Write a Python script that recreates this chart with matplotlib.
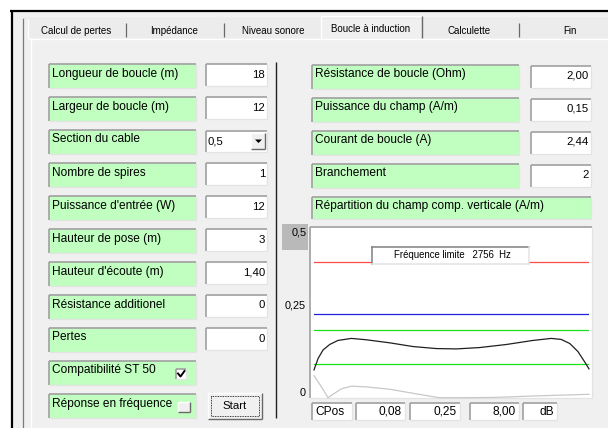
import matplotlib.pyplot as plt
from matplotlib.patches import Rectangle, Polygon

# ---- data ----
tabs = ['Calcul de pertes', 'Impédance', 'Niveau sonore', 'Boucle à induction', 'Calculette', 'Fin']
left_labels = ['Longueur de boucle (m)', 'Largeur de boucle (m)', 'Section du cable',
               'Nombre de spires', "Puissance d'entrée (W)", 'Hauteur de pose (m)',
               "Hauteur d'écoute (m)", 'Résistance additionel', 'Pertes',
               'Compatibilité ST 50', 'Réponse en fréquence']
left_values = ['18', '12', '0,5', '1', '12', '3', '1,40', '0', '0']
right_labels = ['Résistance de boucle (Ohm)', 'Puissance du champ (A/m)',
                'Courant de boucle (A)', 'Branchement']
right_values = ['2,00', '0,15', '2,44', '2']
chart_title = 'Répartition du champ comp. verticale (A/m)'
freq_text = 'Fréquence limite   2756  Hz'
bottom_values = ['CPos', '0,08', '0,25', '8,00', 'dB']

# field along the loop (position in % of the width)
pos_black = [0, 1.5, 3.3, 5.7, 8.7, 13.6, 19.0, 27.5, 36.0, 44.5, 51.8, 60.2, 69.9,
             79.6, 86.3, 89.9, 93.0, 96.0, 98.4, 100]
field_black = [0.082, 0.116, 0.141, 0.157, 0.169, 0.175, 0.171, 0.162, 0.151, 0.145,
               0.144, 0.148, 0.157, 0.169, 0.175, 0.172, 0.160, 0.136, 0.106, 0.085]
pos_gray = [0, 2.7, 5.1, 6.9, 9.9, 13.6, 19.0, 27.5, 36.0, 43.3, 45.7, 55.4, 66.3,
            79.6, 91.8, 100]
field_gray = [0.065, 0.032, 0.0, 0.010, 0.026, 0.034, 0.032, 0.025, 0.013, 0.003,
              0.0, 0.0, 0.001, 0.005, 0.008, 0.010]
limit_red = 0.40
limit_blue = 0.246
limit_green = [0.20, 0.098]

FONT = 'Liberation Sans'
FS = 8.6
BG = '#f0f0f0'
GREEN = '#c0ffc0'
DARK = '#8a8a8a'

fig = plt.figure(figsize=(6.08, 4.28), dpi=100, facecolor='white')
ax = fig.add_axes([0, 0, 1, 1])
ax.set_xlim(0, 608)
ax.set_ylim(428, 0)
ax.axis('off')


def line(x0, y0, x1, y1, c=DARK, lw=0.9, z=3):
    ax.plot([x0, x1], [y0, y1], color=c, lw=lw, zorder=z, solid_capstyle='butt')


def sunken(x, y, w, h, fill, z=2):
    ax.add_patch(Rectangle((x, y), w, h, facecolor=fill, edgecolor='none', zorder=z))
    line(x, y, x + w, y, '#a0a0a0', 1.2, z + 0.1)
    line(x, y, x, y + h, '#a0a0a0', 1.2, z + 0.1)
    line(x, y + h, x + w, y + h, '#e3e3e3', 0.9, z + 0.1)
    line(x + w, y, x + w, y + h, '#e3e3e3', 0.9, z + 0.1)


def raised(x, y, w, h, fill=BG, z=2):
    ax.add_patch(Rectangle((x, y), w, h, facecolor=fill, edgecolor='none', zorder=z))
    line(x, y, x + w, y, 'white', 1.0, z + 0.1)
    line(x, y, x, y + h, 'white', 1.0, z + 0.1)
    line(x, y + h, x + w, y + h, '#696969', 1.0, z + 0.1)
    line(x + w, y, x + w, y + h, '#696969', 1.0, z + 0.1)


def txt(x, y, s, ha='left', size=FS):
    ax.text(x, y, s, ha=ha, va='center', fontsize=size, family=FONT, color='black', zorder=6)


# window background and frame
ax.add_patch(Rectangle((11, 10), 597, 418, facecolor=BG, edgecolor='none', zorder=0))
line(10, 10.5, 608, 10.5, 'black', 1.6)
line(11.5, 10, 11.5, 428, 'black', 1.6)
line(22.5, 18, 22.5, 428, '#7a7a7a', 0.9)
line(22.5, 18, 608, 18, '#e8e8e8', 0.9)

# tab strip
ax.add_patch(Rectangle((28, 19), 580, 19, facecolor='#ececec', edgecolor='none', zorder=1))
line(28, 38.5, 608, 38.5, 'white', 1.0)
line(30.5, 38, 30.5, 428, 'white', 1.0)
line(28, 19, 28, 38, 'white', 0.9)
tab_centers = [76, 174, 273, 371, 469, 570]
for sx in [126, 224, 519]:
    line(sx, 23, sx, 37, '#6a6a6a', 0.9)
ax.add_patch(Rectangle((321, 16), 100, 23, facecolor=BG, edgecolor='none', zorder=2))
line(321, 16, 421, 16, 'white', 1.0)
line(321, 16, 321, 39, 'white', 1.0)
line(421.5, 16, 421.5, 38, '#6a6a6a', 1.0)
for name, cx in zip(tabs, tab_centers):
    txt(cx, 29 if name.startswith('Boucle') else 31, name, ha='center', size=7.0)

# left column
row_tops = [64 + 33 * i for i in range(len(left_labels))]
for i, (lab, top) in enumerate(zip(left_labels, row_tops)):
    sunken(49, top, 147, 24, GREEN)
    txt(52, top + 9.5, lab)
    if i < len(left_values):
        if i == 2:
            sunken(206, top + 1, 61, 21, 'white')
            txt(208, top + 11, left_values[i], size=8.2)
            raised(251, top + 3, 14, 16)
            ax.add_patch(Polygon([[255, top + 9.5], [262, top + 9.5], [258.5, top + 13]],
                                 closed=True, facecolor='black', edgecolor='none', zorder=4))
        else:
            sunken(206, top, 61, 22, 'white')
            txt(265, top + 10.5, left_values[i], ha='right', size=8.2)

# checkboxes
top_c = row_tops[9]
sunken(176, top_c + 8, 10, 10, 'white', z=4)
ax.plot([178, 180.5, 184.5], [top_c + 12.5, top_c + 15.5, top_c + 10], color='black',
        lw=1.4, zorder=6)
top_r = row_tops[10]
raised(178, top_r + 8, 12, 10, z=4)

# start button
raised(208, 393, 54, 26)
ax.add_patch(Rectangle((211, 396), 48, 20, facecolor='none', edgecolor='black', lw=0.6,
                       linestyle=(0, (1, 1)), zorder=4))
txt(235, 406, 'Start', ha='center', size=8.2)

# separator
line(276, 62, 276, 418, '#202020', 1.0)

# right column
for lab, val, top in zip(right_labels, right_values, row_tops):
    sunken(312, top + 1, 207, 24, GREEN)
    txt(315, top + 10, lab)
    sunken(531, top + 2, 60, 22, 'white')
    txt(589, top + 11.5, val, ha='right', size=8.2)
sunken(312, 197, 279, 22, GREEN)
txt(315, 206, chart_title)

# chart frame and y labels
ax.add_patch(Rectangle((282, 224), 26, 26, facecolor='#b9b9b9', edgecolor='none', zorder=1))
sunken(310, 227, 282, 171, 'white')
txt(307, 232, '0,5', ha='right', size=7.8)
txt(306, 305, '0,25', ha='right', size=7.8)
txt(306, 393, '0', ha='right', size=7.8)

# bottom boxes
bx = [(312, 40), (356, 49), (410, 50), (470, 49), (523, 34)]
for (x0, w), val in zip(bx, bottom_values):
    sunken(x0, 403, w, 17, 'white')
    if val == 'CPos':
        txt(x0 + 3, 412, val)
    else:
        txt(x0 + w - 3, 412, val, ha='right')

# chart itself
cax = fig.add_axes([314 / 608, (428 - 397.7) / 428, 275 / 608, 169.4 / 428])
cax.set_xlim(0, 100)
cax.set_ylim(0, 0.5)
cax.axis('off')
cax.patch.set_alpha(0)
cax.axhline(limit_red, color='#ff4a4a', lw=0.9)
cax.axhline(limit_blue, color='#1f1fe0', lw=0.9)
for g in limit_green:
    cax.axhline(g, color='#18e018', lw=0.9)
cax.plot(pos_gray, field_gray, color='#c8c8c8', lw=0.9, clip_on=False)
cax.plot(pos_black, field_black, color='#202020', lw=0.9, clip_on=False)

# frequency label box drawn over the chart lines
cax.add_patch(Rectangle((372, 247), 157, 17, facecolor='white', edgecolor='none',
                        transform=ax.transData, clip_on=False, zorder=5))
for (x0, y0, x1, y1, c) in [(372, 247, 529, 247, '#808080'), (372, 247, 372, 264, '#808080'),
                            (372, 264, 529, 264, '#e3e3e3'), (529, 247, 529, 264, '#e3e3e3')]:
    cax.plot([x0, x1], [y0, y1], color=c, lw=1.1, transform=ax.transData, clip_on=False,
             zorder=6)
cax.text(452, 255, freq_text, ha='center', va='center', fontsize=6.9, family=FONT,
         transform=ax.transData, zorder=7)

fig.savefig('out.png', dpi=100, facecolor='white')
